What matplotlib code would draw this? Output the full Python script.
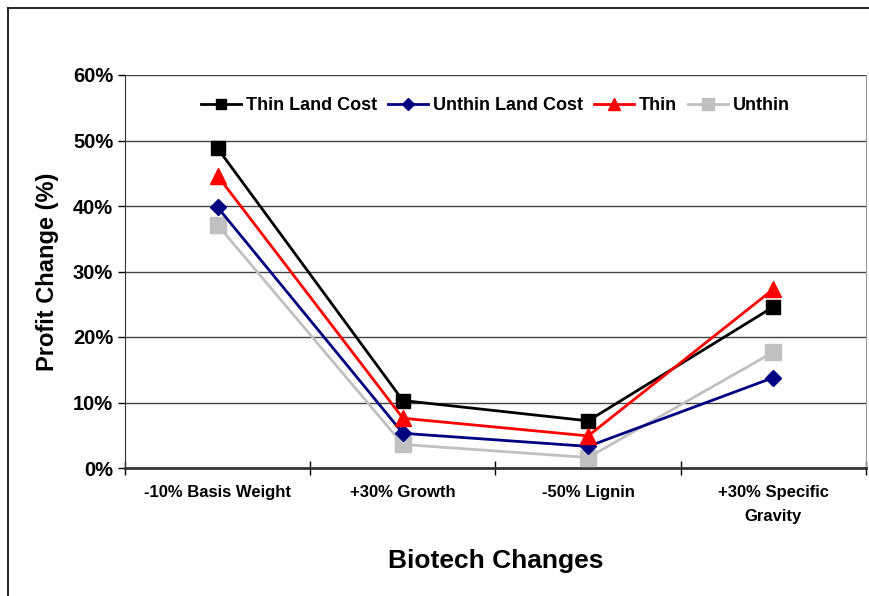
import matplotlib
matplotlib.use("Agg")
import matplotlib.pyplot as plt
from matplotlib.ticker import FuncFormatter, MultipleLocator
from matplotlib.lines import Line2D

plt.rcParams['font.family'] = ['Liberation Sans', 'DejaVu Sans']
plt.rcParams['font.weight'] = 'bold'

categories = ['-10% Basis Weight', '+30% Growth', '-50% Lignin', '+30% Specific\nGravity']
thin_land = [48.8, 10.3, 7.2, 24.6]
unthin_land = [39.8, 5.3, 3.3, 13.8]
thin = [44.6, 7.6, 4.9, 27.3]
unthin = [37.1, 3.6, 1.6, 17.7]

fig = plt.figure(figsize=(8.7, 5.96), dpi=100)
ax = fig.add_axes([125/870, 1-468/596, 741/870, 393/596])

x = range(len(categories))
ax.plot(x, thin_land, color='black', lw=2, marker='s', ms=10, label='Thin Land Cost', zorder=5)
ax.plot(x, unthin_land, color='#000080', lw=2, marker='D', ms=8, label='Unthin Land Cost', zorder=5)
ax.plot(x, thin, color='#ff0000', lw=2, marker='^', ms=11, label='Thin', zorder=5)
ax.plot(x, unthin, color='#c0c0c0', lw=2, marker='s', ms=12, label='Unthin', zorder=4)

ax.set_xlim(-0.5, len(categories) - 0.5)
ax.set_ylim(0, 60)
ax.yaxis.set_major_locator(MultipleLocator(10))
ax.yaxis.set_major_formatter(FuncFormatter(lambda v, p: f'{v:.0f}%'))
ax.grid(axis='y', color='#444444', lw=1)
ax.set_axisbelow(True)

ax.set_xticks([i for i in x])
ax.set_xticklabels(categories, fontsize=12, fontweight='bold', linespacing=1.75)
ax.tick_params(axis='x', length=0, pad=12)
ax.set_xticks([i - 0.5 for i in range(len(categories) + 1)], minor=True)
ax.tick_params(axis='x', which='minor', direction='inout', length=10, width=1)
ax.tick_params(axis='y', labelsize=14.5, direction='out', length=5, width=1)
for lbl in ax.get_yticklabels():
    lbl.set_fontweight('bold')

ax.spines['top'].set_visible(False)
ax.spines['right'].set_color('#999999')
ax.spines['left'].set_color('#333333')
ax.spines['bottom'].set_color('#333333')
ax.spines['bottom'].set_linewidth(2)

ax.set_ylabel('Profit Change (%)', fontsize=17, fontweight='bold', labelpad=10)
ax.set_xlabel('Biotech Changes', fontsize=19, fontweight='bold', labelpad=18)

leg = ax.legend(loc='upper center', bbox_to_anchor=(0.5, 0.985), ncol=4, frameon=False,
                fontsize=13, handlelength=2.2, handletextpad=0.3, columnspacing=0.6,
                markerscale=0.75)
for t in leg.get_texts():
    t.set_fontweight('bold')

# figure border (left and top)
fig.add_artist(Line2D([8/870, 8/870], [0, 1-8/596], color='black', lw=1.2, transform=fig.transFigure))
fig.add_artist(Line2D([8/870, 1], [1-8/596, 1-8/596], color='black', lw=1.2, transform=fig.transFigure))

fig.savefig('out.png', dpi=100)
